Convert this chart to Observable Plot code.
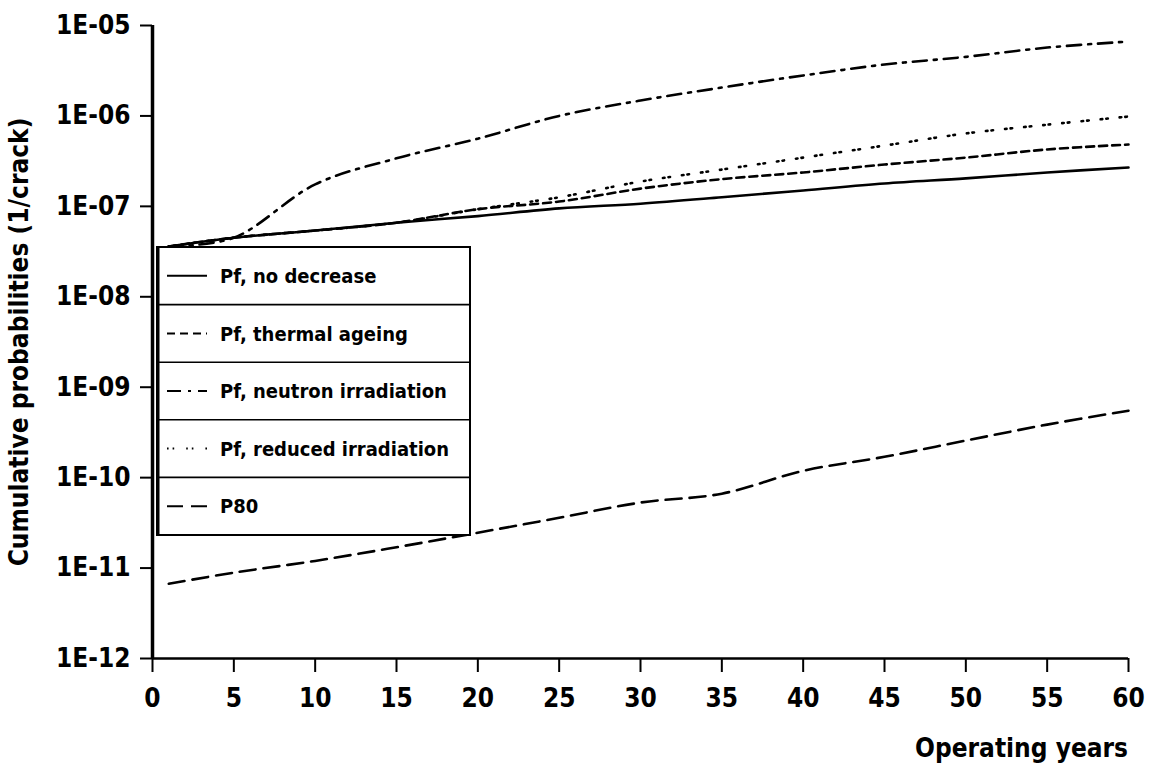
<!DOCTYPE html>
<html>
<head>
<meta charset="utf-8">
<script src="https://cdn.jsdelivr.net/npm/d3@7"></script>
<script src="https://cdn.jsdelivr.net/npm/@observablehq/plot@0.6"></script>
<style>
  html, body { margin: 0; padding: 0; background: #fff; }
  #chart { position: relative; width: 1152px; height: 765px; }
</style>
</head>
<body>
<div id="chart"></div>
<script>
// ---- data ----
const years = [1, 5, 10, 15, 20, 25, 30, 35, 40, 45, 50, 55, 60];
const pfNoDecrease      = [3.6e-8, 4.5e-8, 5.4e-8, 6.6e-8, 7.8e-8, 9.5e-8, 1.07e-7, 1.26e-7, 1.5e-7, 1.79e-7, 2.04e-7, 2.37e-7, 2.69e-7];
const pfThermalAgeing   = [3.6e-8, 4.5e-8, 5.4e-8, 6.6e-8, 9.3e-8, 1.13e-7, 1.57e-7, 2.0e-7, 2.37e-7, 2.9e-7, 3.46e-7, 4.26e-7, 4.83e-7];
const pfNeutronIrr      = [3.6e-8, 4.5e-8, 1.75e-7, 3.4e-7, 5.6e-7, 1.0e-6, 1.48e-6, 2.06e-6, 2.8e-6, 3.7e-6, 4.5e-6, 5.7e-6, 6.65e-6];
const pfReducedIrr      = [3.6e-8, 4.5e-8, 5.4e-8, 6.6e-8, 9.3e-8, 1.26e-7, 1.88e-7, 2.55e-7, 3.46e-7, 4.7e-7, 6.4e-7, 8.0e-7, 9.85e-7];
const p80               = [6.7e-12, 8.9e-12, 1.2e-11, 1.7e-11, 2.46e-11, 3.6e-11, 5.3e-11, 6.65e-11, 1.19e-10, 1.7e-10, 2.57e-10, 3.86e-10, 5.5e-10];

const seriesNames = ["Pf, no decrease", "Pf, thermal ageing", "Pf, neutron irradiation", "Pf, reduced irradiation", "P80"];
const seriesValues = [pfNoDecrease, pfThermalAgeing, pfNeutronIrr, pfReducedIrr, p80];
const dashes = [null, "8,5", "14,7,3,7", "1.6,4,1.6,12", "16,8"];

const xTicks = [0, 5, 10, 15, 20, 25, 30, 35, 40, 45, 50, 55, 60];
const yTicks = [1e-12, 1e-11, 1e-10, 1e-9, 1e-8, 1e-7, 1e-6, 1e-5];
const yTickLabels = ["1E-12", "1E-11", "1E-10", "1E-09", "1E-08", "1E-07", "1E-06", "1E-05"];
const xTitle = "Operating years";
const yTitle = "Cumulative probabilities (1/crack)";

// ---- build table ----
const rows = [];
seriesNames.forEach((name, i) => {
  years.forEach((yr, j) => rows.push({series: name, year: yr, value: seriesValues[i][j]}));
});

const font = "'DejaVu Sans Condensed', 'Liberation Sans Narrow', sans-serif";

const plot = Plot.plot({
  width: 1152,
  height: 765,
  marginLeft: 152,
  marginRight: 24,
  marginTop: 25,
  marginBottom: 107,
  style: {fontFamily: font, fontWeight: "bold", fontSize: "26px", color: "#000", background: "#fff"},
  x: {domain: [0, 60]},
  y: {type: "log", domain: [1e-12, 1e-5]},
  marks: [
    Plot.axisX({ticks: xTicks, tickSize: 14, tickPadding: 16, tickFormat: d => String(d), label: null, strokeWidth: 2}),
    Plot.axisY({ticks: yTicks, tickSize: 12, tickPadding: 10,
      tickFormat: d => yTickLabels[yTicks.indexOf(d)],
      label: yTitle, labelAnchor: "center", labelArrow: "none", labelOffset: 143, strokeWidth: 2}),
    ...seriesNames.map((name, i) => Plot.line(rows.filter(r => r.series === name), {
      x: "year", y: "value", stroke: "#000", strokeWidth: 2.6,
      strokeDasharray: dashes[i], curve: "catmull-rom"
    })),
    Plot.ruleY([1e-12], {stroke: "#000", strokeWidth: 2.5}),
    Plot.ruleX([0], {stroke: "#000", strokeWidth: 3.5})
  ]
});

document.getElementById("chart").appendChild(plot);

const svg = d3.select(plot);
// x-axis title, right-aligned with the end of the axis
svg.append("text").attr("x", 1128).attr("y", 757).attr("text-anchor", "end")
  .attr("font-family", font).attr("font-weight", "bold").attr("font-size", 26).text(xTitle);

// ---- legend box (layout element, drawn in SVG) ----
const lg = {left: 157, top: 247, width: 313, rowH: 57.6};
const g = svg.append("g").attr("font-family", font).attr("font-weight", "bold").attr("font-size", 20).attr("text-anchor", "start");
g.append("rect").attr("x", lg.left).attr("y", lg.top).attr("width", lg.width)
  .attr("height", lg.rowH * seriesNames.length).attr("fill", "#fff").attr("stroke", "#000").attr("stroke-width", 2);
g.append("line").attr("x1", lg.left + 1).attr("x2", lg.left + 1).attr("y1", lg.top).attr("y2", lg.top + lg.rowH * seriesNames.length)
  .attr("stroke", "#000").attr("stroke-width", 3);
seriesNames.forEach((name, i) => {
  const cy = lg.top + lg.rowH * (i + 0.5);
  if (i > 0) g.append("line").attr("x1", lg.left).attr("x2", lg.left + lg.width)
    .attr("y1", lg.top + lg.rowH * i).attr("y2", lg.top + lg.rowH * i).attr("stroke", "#000").attr("stroke-width", 1.6);
  g.append("line").attr("x1", lg.left + 10).attr("x2", lg.left + 50).attr("y1", cy).attr("y2", cy)
    .attr("stroke", "#000").attr("stroke-width", 2).attr("stroke-dasharray", dashes[i]);
  g.append("text").attr("x", lg.left + 63).attr("y", cy).attr("dy", "0.36em").attr("text-anchor", "start").text(name);
});
</script>
</body>
</html>
